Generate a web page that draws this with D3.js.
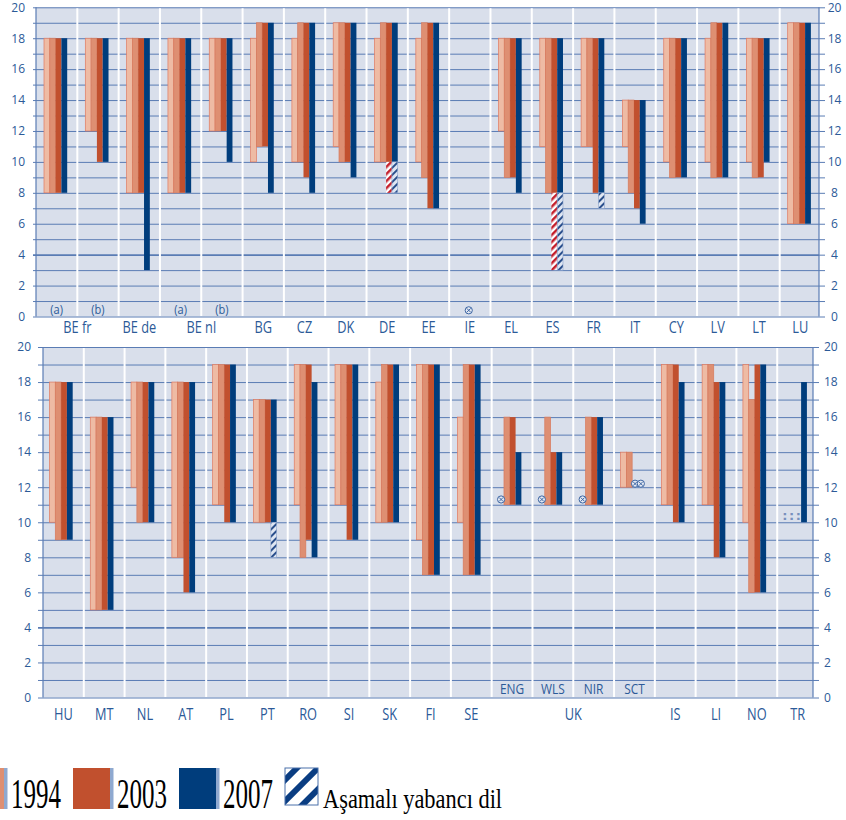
<!DOCTYPE html>
<html>
<head>
<meta charset="utf-8">
<script src="https://cdnjs.cloudflare.com/ajax/libs/d3/7.8.5/d3.min.js"></script>
<style>
  body { margin: 0; background: #fff; }
  svg { display: block; }
</style>
</head>
<body>
<div id="chart"></div>
<script>
// legend labels (first series legend entry is cut off in the source)
var years = ['', '1994', '2003', '2007'];
var hatchLabel = 'Aşamalı yabancı dil';

// ---- top panel ----
var topCodes = ['BE fr','BE fr','BE de','BE nl','BE nl','BG','CZ','DK','DE','EE','IE','EL','ES','FR','IT','CY','LV','LT','LU'];
var topSubs = ['(a)','(b)','','(a)','(b)','','','','','','','','','','','','','',''];
var topS0 = [[8,18],[12,18],[8,18],[8,18],[12,18],[10,18],[10,18],[11,19],[10,18],[10,18],null,[12,18],[11,18],[11,18],[11,14],[10,18],[10,18],[10,18],[6,19]];
var topS1994 = [[8,18],[12,18],[8,18],[8,18],[12,18],[11,19],[10,19],[10,19],[10,19],[9,19],null,[9,18],[8,18],[11,18],[8,14],[9,18],[9,19],[9,18],[6,19]];
var topS2003 = [[8,18],[10,18],[8,18],[8,18],[12,18],[11,19],[9,19],[10,19],[10,19],[7,19],null,[9,18],[8,18],[8,18],[7,14],[9,18],[9,19],[9,18],[6,19]];
var topS2007 = [[8,18],[10,18],[3,18],[8,18],[10,18],[8,19],[8,19],[9,19],[10,19],[7,19],null,[8,18],[8,18],[8,18],[6,14],[9,18],[9,19],[10,18],[6,19]];
var topHatch2003 = [null,null,null,null,null,null,null,null,[8,10],null,null,null,[3,8],null,null,null,null,null,null];
var topHatch2007 = [null,null,null,null,null,null,null,null,[8,10],null,null,null,[3,8],[7,8],null,null,null,null,null];
var topMissing = [[10, 1.5, 0.4]];   // [group, slot, value]
var topNoData = [];

// ---- bottom panel ----
var botCodes = ['HU','MT','NL','AT','PL','PT','RO','SI','SK','FI','SE','UK','UK','UK','UK','IS','LI','NO','TR'];
var botSubs = ['','','','','','','','','','','','ENG','WLS','NIR','SCT','','','',''];
var botS0 = [[10,18],[5,16],[12,18],[8,18],[11,19],[10,17],[11,19],[11,19],[10,18],[9,19],[10,16],null,null,null,[12,14],[11,19],[11,19],[10,19],null];
var botS1994 = [[9,18],[5,16],[10,18],[8,18],[11,19],[10,17],[8,19],[11,19],[10,19],[7,19],[7,19],[11,16],[11,16],[11,16],[12,14],[11,19],[11,19],[6,17],null];
var botS2003 = [[9,18],[5,16],[10,18],[6,18],[10,19],[10,17],[9,19],[9,19],[10,19],[7,19],[7,19],[11,16],[11,14],[11,16],null,[10,19],[8,18],[6,19],null];
var botS2007 = [[9,18],[5,16],[10,18],[6,18],[10,19],[10,17],[8,18],[9,19],[10,19],[7,19],[7,19],[11,14],[11,14],[11,16],null,[10,18],[8,18],[6,19],[10,18]];
var botHatch2003 = [null,null,null,null,null,null,null,null,null,null,null,null,null,null,null,null,null,null,null];
var botHatch2007 = [null,null,null,null,null,[8,10],null,null,null,null,null,null,null,null,null,null,null,null,null];
var botMissing = [[11, 0, 11.3],[12, 0, 11.3],[13, 0, 11.3],[14, 2, 12.2],[14, 3, 12.2]];
var botNoData = [[18, 1, 10.4]];

var barColors = ['#eebba4', '#de8f72', '#c1502e', '#003d7c'];
var barStroke = ['#e07a60', '#d77a5d', 'none', 'none'];
var bgCol = '#d9dfeb', gridCol = '#5a7cb4', textCol = '#2c5a98';

var svg = d3.select('#chart').append('svg')
    .attr('width', 846)
    .attr('height', 820)
    .style('font-family', '"Open Sans", "Noto Sans", sans-serif');

var defs = svg.append('defs');
function stripes(id, bg, fg, size, w) {
    var p = defs.append('pattern').attr('id', id)
        .attr('patternUnits', 'userSpaceOnUse')
        .attr('width', size).attr('height', size)
        .attr('patternTransform', 'rotate(45)');
    p.append('rect').attr('width', size).attr('height', size).attr('fill', bg);
    p.append('rect').attr('width', w).attr('height', size).attr('fill', fg);
}
stripes('hRed', '#ffffff', '#c41e2a', 5, 2.5);
stripes('hBlue', '#dfe6f2', '#2a4f8c', 5, 2);
stripes('hLegend', '#ffffff', '#0a3d82', 15, 6);

var panels = [
    {codes: topCodes, subs: topSubs, series: [topS0, topS1994, topS2003, topS2007],
     hatch: [null, null, topHatch2003, topHatch2007], missing: topMissing, nodata: topNoData,
     left: 36, right: 819, bandEnd: 821, top: 7.3, bottom: 316.5, off: 8, tickL: 3,
     leftPad: 11, rightPad: 15.5, rightAnchor: 'middle', labY: 327, subY: 309},
    {codes: botCodes, subs: botSubs, series: [botS0, botS1994, botS2003, botS2007],
     hatch: [null, null, botHatch2003, botHatch2007], missing: botMissing, nodata: botNoData,
     left: 43, right: 813, bandEnd: 818, top: 347, bottom: 697.5, off: 6.5, tickL: 5,
     leftPad: 12, rightPad: 11, rightAnchor: 'start', labY: 714, subY: 689}
];

var bw = 5.8;

panels.forEach(function (p) {
    var n = p.codes.length;
    var x = d3.scaleBand().domain(d3.range(n)).range([p.left, p.bandEnd]);
    var y = d3.scaleLinear().domain([0, 20]).range([p.bottom, p.top]);
    var g = svg.append('g');

    g.append('rect')
        .attr('x', p.left).attr('y', p.top)
        .attr('width', p.right - p.left).attr('height', p.bottom - p.top)
        .attr('fill', bgCol);

    // grid lines (every year) + small ticks on the left
    var grid = g.append('g')
        .attr('transform', 'translate(' + p.right + ',0)')
        .call(d3.axisLeft(y).tickValues(d3.range(0, 21)).tickSize(p.right - p.left + p.tickL).tickFormat(''));
    grid.select('.domain').remove();
    grid.selectAll('line').attr('stroke', gridCol).attr('stroke-width', function (d) {
        return d === 4 ? 1.8 : 1;
    });

    // white separators between groups
    g.selectAll('.sep')
        .data(d3.range(1, n))
        .enter().append('line')
        .attr('x1', function (i) { return x(i); })
        .attr('x2', function (i) { return x(i); })
        .attr('y1', p.top + 1).attr('y2', p.bottom - 0.5)
        .attr('stroke', '#ffffff').attr('stroke-width', 2);

    // axis lines
    g.append('line').attr('x1', p.left).attr('x2', p.left).attr('y1', p.top).attr('y2', p.bottom)
        .attr('stroke', gridCol).attr('stroke-width', 1.2);
    g.append('line').attr('x1', p.right).attr('x2', p.right).attr('y1', p.top).attr('y2', p.bottom)
        .attr('stroke', gridCol).attr('stroke-width', 1.2);

    var fmt = function (d) { return d % 2 === 0 ? d : ''; };

    var yLeft = g.append('g')
        .attr('transform', 'translate(' + p.left + ',0)')
        .call(d3.axisLeft(y).tickValues(d3.range(0, 21)).tickSize(0).tickPadding(p.leftPad).tickFormat(fmt));
    var yRight = g.append('g')
        .attr('transform', 'translate(' + p.right + ',0)')
        .call(d3.axisRight(y).tickValues(d3.range(0, 21)).tickSize(6).tickPadding(p.rightPad - 6).tickFormat(fmt));
    [yLeft, yRight].forEach(function (a) {
        a.select('.domain').remove();
        a.selectAll('line').attr('stroke', gridCol);
        a.selectAll('text').attr('fill', textCol).attr('font-size', '12px')
            .attr('font-family', '"Open Sans", "Noto Sans", sans-serif');
    });
    yRight.selectAll('text').attr('text-anchor', p.rightAnchor);

    // bars
    p.series.forEach(function (s, k) {
        var data = s.map(function (r, i) { return {i: i, r: r}; }).filter(function (d) { return d.r; });
        g.selectAll('.bar' + k)
            .data(data)
            .enter().append('rect')
            .attr('x', function (d) { return x(d.i) + p.off + k * bw; })
            .attr('y', function (d) { return y(d.r[1]); })
            .attr('width', bw)
            .attr('height', function (d) { return y(d.r[0]) - y(d.r[1]); })
            .attr('fill', barColors[k])
            .attr('stroke', barStroke[k])
            .attr('stroke-width', 0.7);
    });

    // hatched parts (progressive foreign language)
    p.hatch.forEach(function (s, k) {
        if (!s) return;
        var data = s.map(function (r, i) { return {i: i, r: r}; }).filter(function (d) { return d.r; });
        g.selectAll('.hatch' + k)
            .data(data)
            .enter().append('rect')
            .attr('x', function (d) { return x(d.i) + p.off + k * bw; })
            .attr('y', function (d) { return y(d.r[1]); })
            .attr('width', bw)
            .attr('height', function (d) { return y(d.r[0]) - y(d.r[1]); })
            .attr('fill', k === 2 ? 'url(#hRed)' : 'url(#hBlue)')
            .attr('stroke', k === 2 ? 'none' : '#8aa2cc')
            .attr('stroke-width', 0.6);
    });

    // not applicable markers
    p.missing.forEach(function (m) {
        var cx = x(m[0]) + p.off + m[1] * bw + bw / 2, cy = y(m[2]);
        var mk = g.append('g').attr('transform', 'translate(' + cx + ',' + cy + ')');
        mk.append('circle').attr('r', 3.6).attr('fill', '#e4e9f3').attr('stroke', '#3d66a3').attr('stroke-width', 1);
        mk.append('path').attr('d', 'M-2,-2L2,2M-2,2L2,-2').attr('stroke', '#3d66a3').attr('stroke-width', 1);
    });
    p.nodata.forEach(function (m) {
        g.append('text')
            .attr('x', x(m[0]) + p.off + m[1] * bw + bw / 2)
            .attr('y', y(m[2]))
            .attr('dy', '0.35em')
            .attr('text-anchor', 'middle')
            .attr('font-family', '"DejaVu Sans", sans-serif')
            .attr('font-size', '13px')
            .attr('letter-spacing', '1.5px')
            .attr('font-weight', 'bold')
            .attr('fill', '#7890bd')
            .text(':::');
    });

    // sub labels inside the plot
    g.selectAll('.sub')
        .data(p.subs.map(function (t, i) { return {i: i, t: t}; }).filter(function (d) { return d.t; }))
        .enter().append('text')
        .attr('x', function (d) { return x(d.i) + x.bandwidth() / 2; })
        .attr('y', p.subY)
        .attr('dy', '0.35em')
        .attr('text-anchor', 'middle')
        .attr('font-size', p.subY < 400 ? '13px' : '14px')
        .attr('fill', textCol)
        .attr('transform', function (d) {
            var cx = x(d.i) + x.bandwidth() / 2;
            return 'translate(' + cx + ',0) scale(0.85,1) translate(' + (-cx) + ',0)';
        })
        .text(function (d) { return d.t; });

    // country labels, one per run of equal codes
    var runs = [];
    p.codes.forEach(function (c, i) {
        if (runs.length && runs[runs.length - 1].c === c) runs[runs.length - 1].to = i;
        else runs.push({c: c, from: i, to: i});
    });
    g.selectAll('.cat')
        .data(runs)
        .enter().append('g')
        .attr('transform', function (d) {
            var cx = (x(d.from) + x(d.to) + x.bandwidth()) / 2;
            return 'translate(' + cx + ',' + p.labY + ')';
        })
        .append('text')
        .attr('text-anchor', 'middle')
        .attr('dy', '0.35em')
        .attr('font-size', '16px')
        .attr('fill', textCol)
        .attr('transform', 'scale(0.8,1)')
        .text(function (d) { return d.c; });
});

// legend
var legendFill = [barColors[1], barColors[2], barColors[3], 'url(#hLegend)'];
var legendText = [years[1], years[2], years[3], hatchLabel];
var lg = svg.append('g').attr('class', 'legend');
legendText.forEach(function (t, i) {
    var lx = -33 + i * 106;
    if (i < 3) {
        lg.append('rect').attr('x', lx).attr('y', 768).attr('width', 37).attr('height', 41)
            .attr('fill', legendFill[i]);
        lg.append('rect').attr('x', lx + 37).attr('y', 768).attr('width', 3.5).attr('height', 41)
            .attr('fill', '#8fa9d0');
        lg.append('g').attr('transform', 'translate(' + (lx + 44) + ',808) scale(1,1.7)')
            .append('text')
            .attr('font-family', '"Liberation Serif", "Times New Roman", serif')
            .attr('font-size', '25px')
            .attr('fill', '#000')
            .text(t);
    } else {
        lg.append('rect').attr('x', lx).attr('y', 768).attr('width', 33).attr('height', 37)
            .attr('fill', legendFill[i]).attr('stroke', '#4a70aa').attr('stroke-width', 1);
        lg.append('g').attr('transform', 'translate(' + (lx + 38) + ',808) scale(1,1.2)')
            .append('text')
            .attr('font-family', '"Liberation Serif", "Times New Roman", serif')
            .attr('font-size', '22.4px')
            .attr('fill', '#000')
            .text(t);
    }
});
</script>
</body>
</html>
